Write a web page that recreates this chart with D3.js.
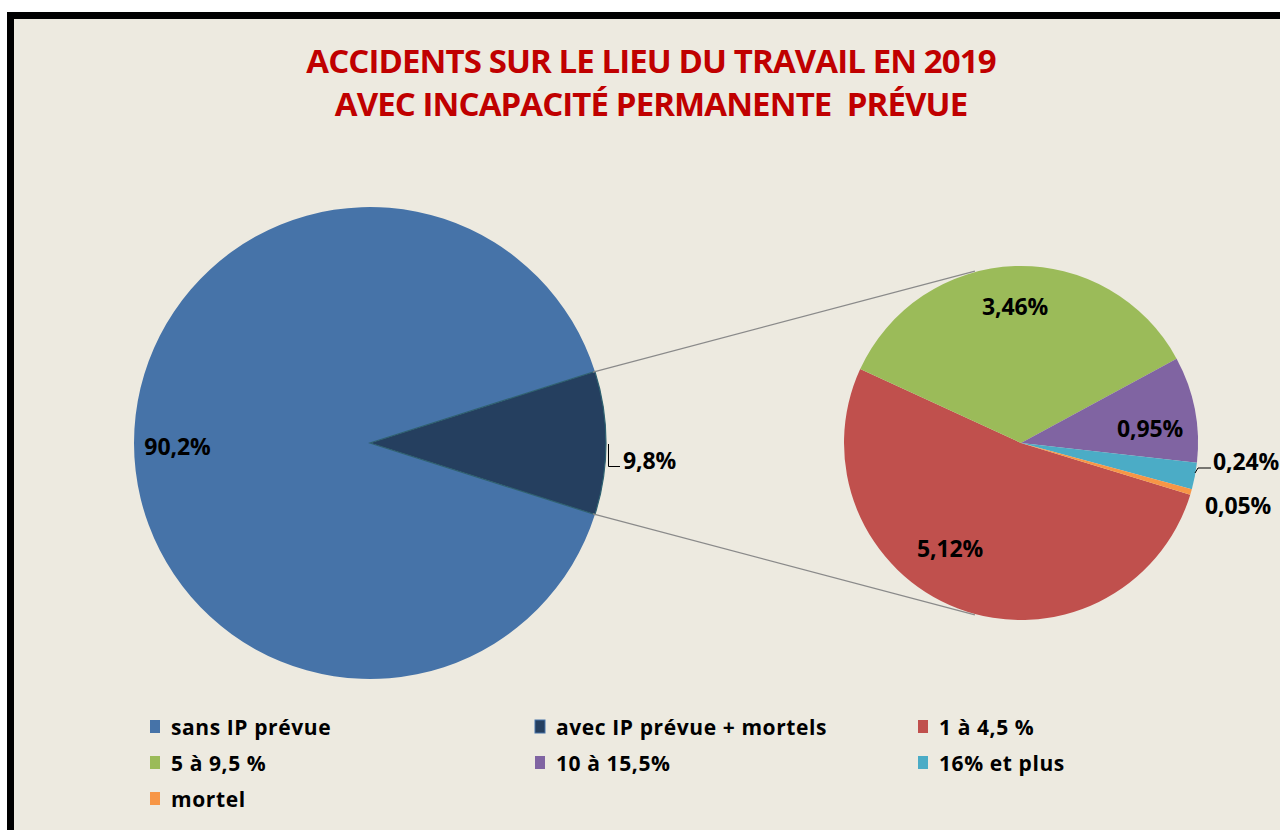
<!DOCTYPE html>
<html><head><meta charset="utf-8">
<script src="https://cdn.jsdelivr.net/npm/d3@7"></script>
<style>
html,body{margin:0;padding:0;background:#fff;overflow:hidden;}
svg{display:block;font-family:"Open Sans",sans-serif;}
</style></head>
<body>
<svg id="chart" width="1280" height="830"></svg>
<script>
// ---- data ----
const titleLines = ["ACCIDENTS SUR LE LIEU DU TRAVAIL EN 2019", "AVEC INCAPACITÉ PERMANENTE  PRÉVUE"];
const mainCategories = ["sans IP prévue", "avec IP prévue + mortels"];
const mainValues = [90.2, 9.8];
const mainLabels = ["90,2%", "9,8%"];
const subCategories = ["1 à 4,5 %", "5 à 9,5 %", "10 à 15,5%", "16% et plus", "mortel"];
const subValues = [5.12, 3.46, 0.95, 0.24, 0.05];
const subLabels = ["5,12%", "3,46%", "0,95%", "0,24%", "0,05%"];
const legendOrder = ["sans IP prévue", "avec IP prévue + mortels", "1 à 4,5 %", "5 à 9,5 %", "10 à 15,5%", "16% et plus", "mortel"];
const colors = {
  "sans IP prévue": "#4673A8",
  "avec IP prévue + mortels": "#253F5F",
  "1 à 4,5 %": "#C0504D",
  "5 à 9,5 %": "#9BBB59",
  "10 à 15,5%": "#8064A2",
  "16% et plus": "#4BACC6",
  "mortel": "#F79646"
};

const svg = d3.select("#chart");
const deg = Math.PI / 180;

// frame
svg.append("rect").attr("x", 10.5).attr("y", 15.5).attr("width", 1300).attr("height", 900)
  .attr("fill", "#EDEAE0").attr("stroke", "#000").attr("stroke-width", 7);

// title
const title = svg.append("text").attr("text-anchor", "middle")
  .attr("fill", "#C00000").attr("font-weight", "bold").attr("font-size", 33)
  .style("white-space", "pre").attr("letter-spacing", -0.9);
titleLines.forEach((t, i) => {
  title.append("tspan").attr("x", 651).attr("y", 73 + i * 43).text(t);
});

// main pie
const mc = {x: 370, y: 443}, mr = 236;
const mainAngle = 2 * Math.PI * mainValues[1] / 100;
const mainPie = d3.pie().sort(null)
  .startAngle(90 * deg + mainAngle / 2)
  .endAngle(90 * deg + mainAngle / 2 + 2 * Math.PI);
const mainArcs = mainPie(mainValues);
const mainArc = d3.arc().innerRadius(0).outerRadius(mr);
const gm = svg.append("g").attr("transform", `translate(${mc.x},${mc.y})`);
gm.selectAll("path").data(mainArcs).join("path")
  .attr("d", mainArc)
  .attr("fill", (d, i) => colors[mainCategories[i]])
  .attr("stroke", (d, i) => i === 1 ? "#2E6070" : "none")
  .attr("stroke-width", 1.2);

// sub pie
const sc = {x: 1021, y: 443}, sr = 177;
const subStart = 107 * deg;
const subPie = d3.pie().sort(null).startAngle(subStart).endAngle(subStart + 2 * Math.PI);
const subArcs = subPie(subValues);
const subArc = d3.arc().innerRadius(0).outerRadius(sr);
const gs = svg.append("g").attr("transform", `translate(${sc.x},${sc.y})`);
gs.selectAll("path").data(subArcs).join("path")
  .attr("d", subArc)
  .attr("fill", (d, i) => colors[subCategories[i]]);

// connector lines
const darkArc = mainArcs[1];
function pt(c, r, a) { return [c.x + r * Math.sin(a), c.y - r * Math.cos(a)]; }
const p1 = pt(mc, mr - 2, darkArc.startAngle), p2 = pt(mc, mr - 2, darkArc.endAngle);
const q1 = pt(sc, sr + 1, -15 * deg), q2 = pt(sc, sr + 1, 195 * deg);
[[p1, q1], [p2, q2]].forEach(([a, b]) => {
  svg.append("line").attr("x1", a[0]).attr("y1", a[1]).attr("x2", b[0]).attr("y2", b[1])
    .attr("stroke", "#8A8A8A").attr("stroke-width", 1.2);
});

// labels
const lab = svg.append("g").attr("font-weight", "bold").attr("font-size", 23).attr("fill", "#000")
  .attr("letter-spacing", -0.1);
function addLabel(txt, x, y, anchor) {
  lab.append("text").attr("x", x).attr("y", y).attr("text-anchor", anchor || "middle")
    .attr("dominant-baseline", "central").text(txt);
}
const mainLabelArc = d3.arc().innerRadius(mr * 0.82).outerRadius(mr * 0.82);
{
  const c = mainLabelArc.centroid({startAngle: 270 * deg, endAngle: 270 * deg});
  addLabel(mainLabels[0], mc.x + c[0] + 1, mc.y + c[1] + 3);
}
addLabel(mainLabels[1], 623, 460, "start");
svg.append("path").attr("d", "M608.5,444 V466.5 H620").attr("fill", "none").attr("stroke", "#000").attr("stroke-width", 1);

addLabel(subLabels[0], 950, 548);
addLabel(subLabels[1], 1015, 306);
addLabel(subLabels[2], 1150, 428);
addLabel(subLabels[3], 1213, 461, "start");
addLabel(subLabels[4], 1205, 505, "start");
svg.append("path").attr("d", "M1195,473 L1198,468 H1211").attr("fill", "none").attr("stroke", "#000").attr("stroke-width", 1);

// legend
const legX = [150, 535, 918], legY = [727, 763, 799];
const leg = svg.append("g");
legendOrder.forEach((name, i) => {
  const x = legX[i % 3], y = legY[Math.floor(i / 3)];
  leg.append("rect").attr("x", x).attr("y", y - 7).attr("width", 10).attr("height", 13)
    .attr("fill", colors[name])
    .attr("stroke", name === "avec IP prévue + mortels" ? "#4673A8" : "none").attr("stroke-width", 1);
  leg.append("text").attr("x", x + 21).attr("y", y).attr("dominant-baseline", "central")
    .attr("font-weight", "bold").attr("font-size", 21).attr("letter-spacing", 0.6)
    .text(name);
});
</script>
</body></html>
